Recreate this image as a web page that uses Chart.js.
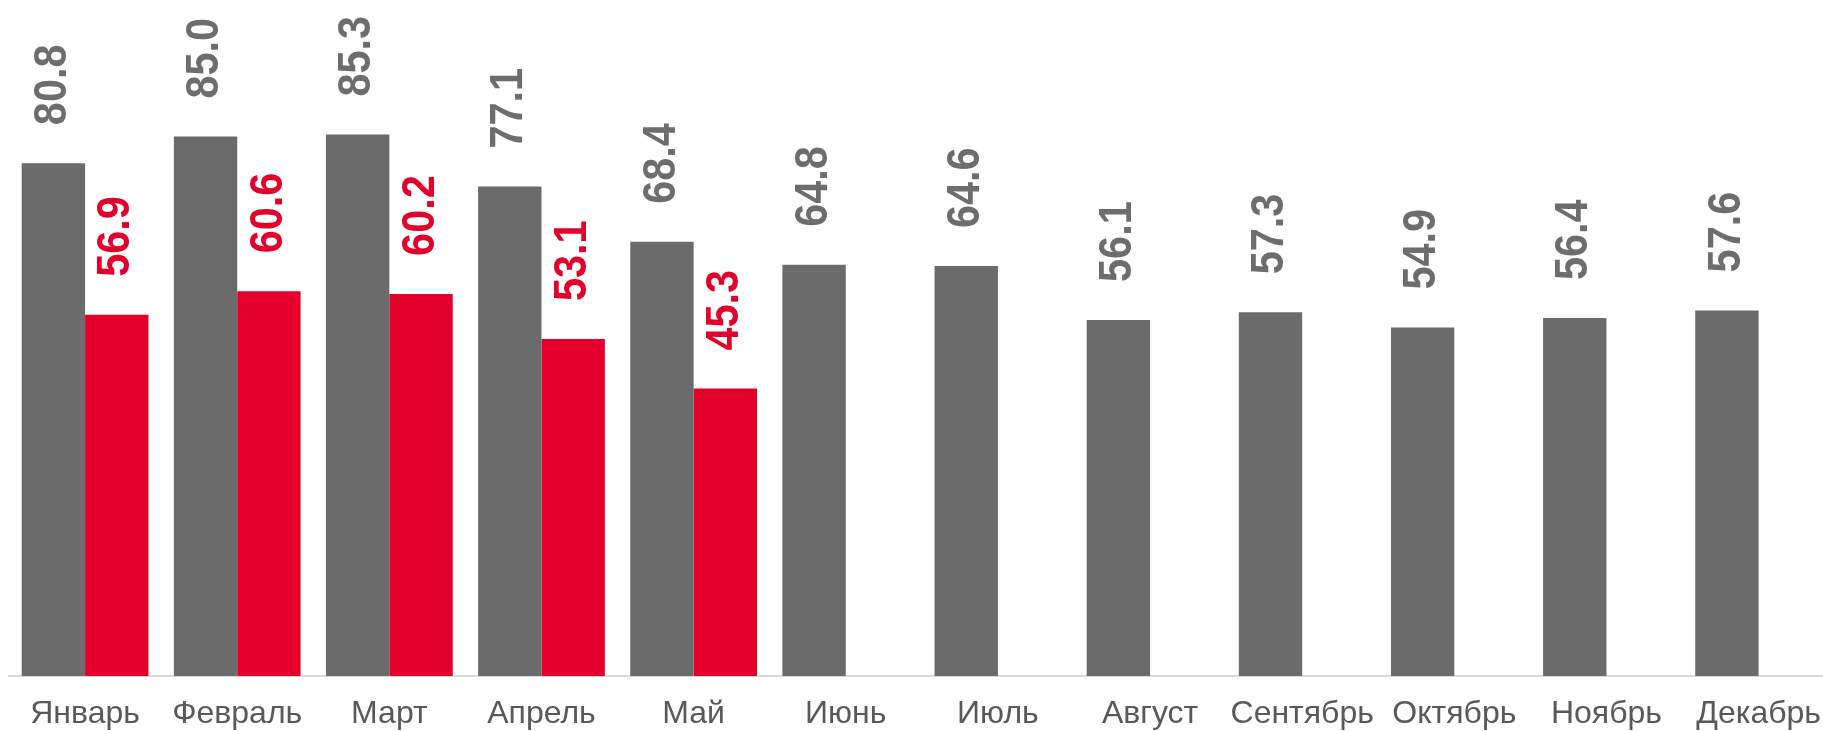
<!DOCTYPE html>
<html lang="ru">
<head>
  <meta charset="UTF-8" />
  <title>Помесячно</title>
  <style>
    html, body { margin: 0; padding: 0; background: #ffffff; overflow: hidden; }
    #wrap { width: 1840px; height: 731px; }
  </style>
</head>
<body>
  <div id="wrap"><canvas id="chart" width="1840" height="731"></canvas></div>

  <script src="https://cdn.jsdelivr.net/npm/chart.js"></script>
  <script>
    const months = ['Январь', 'Февраль', 'Март', 'Апрель', 'Май', 'Июнь', 'Июль', 'Август', 'Сентябрь', 'Октябрь', 'Ноябрь', 'Декабрь'];
    const prevYear = [80.8, 85.0, 85.3, 77.1, 68.4, 64.8, 64.6, 56.1, 57.3, 54.9, 56.4, 57.6];
    const thisYear = [56.9, 60.6, 60.2, 53.1, 45.3, null, null, null, null, null, null, null];

    const GRAY = '#6b6b6b';
    const RED = '#e3002b';

    // value labels above the bars, rotated like in the original
    const barLabels = {
      id: 'barLabels',
      afterDatasetsDraw(chart) {
        const ctx = chart.ctx;
        chart.data.datasets.forEach((ds, i) => {
          const meta = chart.getDatasetMeta(i);
          meta.data.forEach((bar, j) => {
            const v = ds.data[j];
            if (v == null) return;
            ctx.save();
            ctx.translate(bar.x, bar.y - 38);
            ctx.rotate(-Math.PI / 2);
            ctx.scale(0.9, 1);
            ctx.font = 'bold 46px "Liberation Sans", Arial, sans-serif';
            ctx.fillStyle = ds.labelColor;
            ctx.textAlign = 'left';
            ctx.textBaseline = 'middle';
            ctx.fillText(v.toFixed(1), 0, 0);
            ctx.restore();
          });
        });
      }
    };

    new Chart(document.getElementById('chart'), {
      type: 'bar',
      data: {
        labels: months,
        datasets: [
          { data: prevYear, backgroundColor: GRAY, labelColor: '#6d6d6d', barPercentage: 1, categoryPercentage: 0.833 },
          { data: thisYear, backgroundColor: RED, labelColor: RED, barPercentage: 1, categoryPercentage: 0.833 }
        ]
      },
      options: {
        responsive: false,
        animation: false,
        layout: { padding: { left: 9, right: 0, top: 0, bottom: 0 } },
        plugins: { legend: { display: false }, tooltip: { enabled: false } },
        scales: {
          x: {
            grid: { display: false, drawTicks: false },
            border: { display: true, color: '#d9d9d9', width: 2 },
            ticks: {
              color: '#595959',
              padding: 19,
              maxRotation: 0,
              autoSkip: false,
              font: { family: '"Liberation Sans", Arial, sans-serif', size: 32 }
            },
            afterFit: s => { s.height = 55; }
          },
          y: {
            display: false,
            min: 0,
            max: 106.5
          }
        }
      },
      plugins: [barLabels]
    });
  </script>
</body>
</html>
